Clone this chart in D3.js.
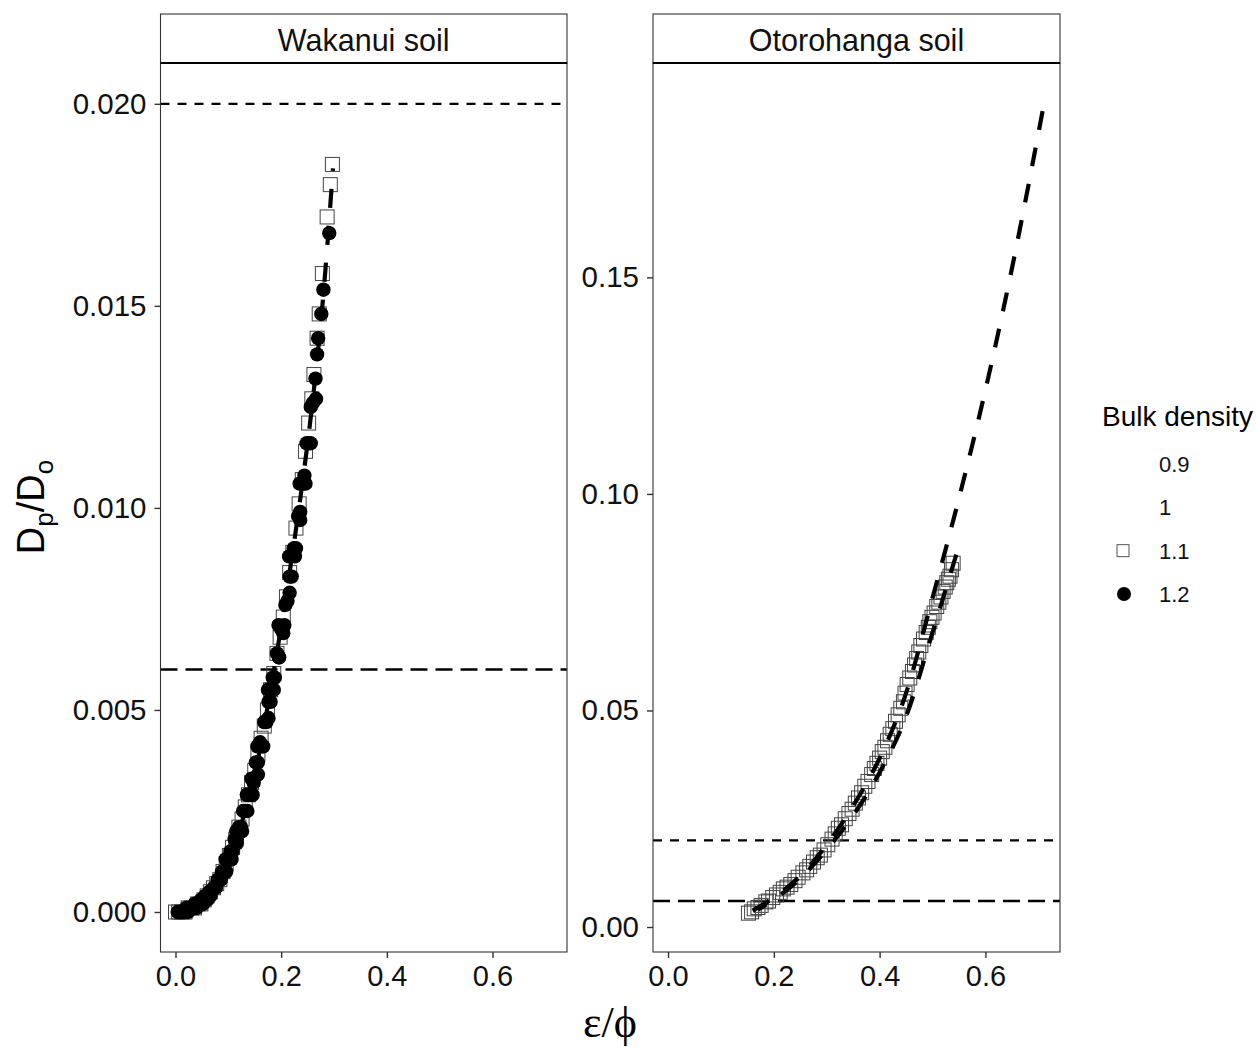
<!DOCTYPE html>
<html>
<head>
<meta charset="utf-8">
<script src="https://cdn.jsdelivr.net/npm/d3@7"></script>
<style>
  html, body { margin: 0; padding: 0; background: #fff; }
  svg { display: block; }
</style>
</head>
<body>
<svg id="chart" width="1256" height="1047"></svg>
<script>
// ---- data -------------------------------------------------------------
const panelTitles = ["Wakanui soil", "Otorohanga soil"];
const densityLevels = ["0.9", "1", "1.1", "1.2"];

// Wakanui soil, bulk density 1.2 (filled circles)
const wakanui12X = [0.004,0.008,0.012,0.016,0.020,0.024,0.028,0.032,0.036,0.040,0.044,0.048,0.052,0.056,0.060,0.064,0.068,0.072,0.076,0.080,0.084,0.088,0.092,0.096,0.100,0.104,0.108,0.112,0.116,0.120,0.124,0.128,0.132,0.136,0.140,0.144,0.148,0.152,0.156,0.160,0.164,0.168,0.172,0.176,0.180,0.184,0.188,0.192,0.196,0.200,0.204,0.208,0.212,0.216,0.220,0.224,0.228,0.232,0.236,0.240,0.244,0.248,0.252,0.256,0.260,0.265,0.268,0.270,0.276,0.280,0.291,
  0.026,0.046,0.066,0.076,0.086,0.096,0.106,0.116,0.126,0.136,0.146,0.156,0.166,0.176,0.186,0.196,0.206,0.216,0.226,0.236,0.246,0.256,0.266,
  0.095,0.115,0.135,0.155,0.175,0.195,0.215,0.235];
const wakanui12Y = [0.0000,0.0000,0.0000,0.0000,0.0001,0.0000,0.0001,0.0001,0.0002,0.0001,0.0002,0.0003,0.0002,0.0004,0.0003,0.0005,0.0005,0.0006,0.0006,0.0008,0.0008,0.0010,0.0010,0.0013,0.0013,0.0015,0.0015,0.0018,0.0018,0.0021,0.0021,0.0025,0.0025,0.0029,0.0029,0.0033,0.0032,0.0037,0.0037,0.0042,0.0041,0.0047,0.0047,0.0052,0.0052,0.0058,0.0058,0.0064,0.0063,0.0070,0.0069,0.0076,0.0077,0.0083,0.0083,0.0090,0.0090,0.0098,0.0099,0.0106,0.0108,0.0116,0.0116,0.0125,0.0126,0.0132,0.0138,0.0142,0.0148,0.0154,0.0168,
  0.0001,0.0002,0.0004,0.0006,0.0008,0.0010,0.0013,0.0017,0.0020,0.0025,0.0029,0.0034,0.0041,0.0048,0.0055,0.0063,0.0071,0.0079,0.0088,0.0097,0.0106,0.0116,0.0127,
  0.0013,0.0020,0.0029,0.0041,0.0055,0.0071,0.0088,0.0106];

// Wakanui soil, bulk density 1.1 (open squares)
const wakanui11X = [0.000,0.006,0.012,0.018,0.024,0.030,0.036,0.042,0.048,0.054,0.060,0.066,0.072,0.078,0.084,0.090,0.096,0.102,0.108,0.114,0.120,0.126,0.132,0.138,0.144,0.150,0.156,0.162,0.168,0.174,0.180,0.186,0.192,0.198,0.204,0.210,0.216,0.222,0.228,0.234,0.240,0.246,0.252,0.258,0.262,0.268,0.272,0.278,0.287,0.293,0.297];
const wakanui11Y = [0.0000,0.0000,0.0000,0.0000,0.0001,0.0001,0.0001,0.0002,0.0002,0.0003,0.0004,0.0005,0.0006,0.0007,0.0008,0.0010,0.0012,0.0014,0.0016,0.0018,0.0021,0.0023,0.0026,0.0029,0.0032,0.0035,0.0039,0.0043,0.0046,0.0050,0.0055,0.0059,0.0064,0.0068,0.0073,0.0078,0.0084,0.0089,0.0095,0.0101,0.0107,0.0114,0.0121,0.0127,0.0133,0.0142,0.0148,0.0158,0.0172,0.0180,0.0185];

// Otorohanga soil, bulk density 1.1 (open squares)
const otoro11X = [0.152,0.158,0.163,0.170,0.176,0.185,0.190,0.198,0.205,0.212,0.218,0.225,0.232,0.240,0.246,0.255,0.262,0.268,0.275,0.282,0.288,0.295,0.302,0.310,0.316,0.322,0.328,0.335,0.342,0.348,0.354,0.360,0.366,0.372,0.378,0.385,0.390,0.395,0.400,0.405,0.410,0.415,0.420,0.425,0.430,0.435,0.440,0.445,0.448,0.452,0.457,0.462,0.466,0.470,0.474,0.478,0.483,0.488,0.492,0.495,0.499,0.503,0.508,0.512,0.516,0.520,0.524,0.527,0.530,0.533,0.536,0.539];
const otoro11Y = [0.0032,0.0035,0.0042,0.0045,0.0050,0.0058,0.0060,0.0068,0.0074,0.0080,0.0088,0.0092,0.0098,0.0107,0.0115,0.0125,0.0132,0.0140,0.0150,0.0160,0.0166,0.0178,0.0190,0.0203,0.0215,0.0228,0.0236,0.0250,0.0262,0.0272,0.0286,0.0298,0.0310,0.0325,0.0336,0.0352,0.0366,0.0378,0.0390,0.0405,0.0415,0.0430,0.0445,0.0458,0.0475,0.0490,0.0505,0.0520,0.0540,0.0560,0.0575,0.0590,0.0605,0.0620,0.0635,0.0650,0.0665,0.0680,0.0692,0.0705,0.0715,0.0725,0.0740,0.0750,0.0762,0.0775,0.0785,0.0795,0.0803,0.0810,0.0825,0.0840];

// fitted model curves
const wakanuiFitX = [0.000,0.030,0.060,0.090,0.120,0.150,0.180,0.210,0.240,0.260,0.280,0.298];
const wakanuiFitY = [0.0000,0.0001,0.0004,0.0010,0.0020,0.0034,0.0055,0.0079,0.0106,0.0127,0.0153,0.0184];
const otoroFitX = [0.160,0.200,0.250,0.300,0.350,0.400,0.450,0.500,0.550,0.600,0.650,0.709];
const otoroFitY = [0.0038,0.0068,0.0118,0.0190,0.0280,0.0390,0.0540,0.0760,0.0990,0.1240,0.1520,0.1890];
// Otorohanga fit over the measured range only
const otoroFitShortX = [0.170,0.250,0.300,0.350,0.400,0.450,0.500,0.545];
const otoroFitShortY = [0.0040,0.0112,0.0179,0.0258,0.0357,0.0486,0.0680,0.0860];

// reference thresholds
const thresholdShort = 0.020;
const thresholdLong = 0.006;

// axis ticks
const xTicks = [0.0, 0.2, 0.4, 0.6];
const wakanuiYTicks = [0.000, 0.005, 0.010, 0.015, 0.020];
const otoroYTicks = [0.00, 0.05, 0.10, 0.15];

// ---- layout -----------------------------------------------------------
const sans = "'Liberation Sans', Arial, sans-serif";
const svg = d3.select("#chart");
const stripTop = 14, plotTop = 63, plotBottom = 952;
const panelsX = [[160.5, 567], [653, 1060]];
const xDomain = [-0.0284, 0.741];
const yDomains = [[-0.00099, 0.02101], [-0.00577, 0.1995]];

const zip = (xs, ys) => xs.map((x, i) => ({ x, y: ys[i] }));

const panels = [
  {
    title: panelTitles[0],
    squares: zip(wakanui11X, wakanui11Y),
    circles: zip(wakanui12X, wakanui12Y),
    fits: [zip(wakanuiFitX, wakanuiFitY)],
    yTicks: wakanuiYTicks,
    yFormat: d3.format(".3f")
  },
  {
    title: panelTitles[1],
    squares: zip(otoro11X, otoro11Y),
    circles: [],
    fits: [zip(otoroFitX, otoroFitY), zip(otoroFitShortX, otoroFitShortY)],
    yTicks: otoroYTicks,
    yFormat: d3.format(".2f")
  }
];

panels.forEach((p, i) => {
  const [x0, x1] = panelsX[i];
  const x = d3.scaleLinear().domain(xDomain).range([x0, x1]);
  const y = d3.scaleLinear().domain(yDomains[i]).range([plotBottom, plotTop]);
  const g = svg.append("g");

  const clipId = "clip" + i;
  svg.append("clipPath").attr("id", clipId)
    .append("rect").attr("x", x0).attr("y", plotTop)
    .attr("width", x1 - x0).attr("height", plotBottom - plotTop);

  const plot = g.append("g").attr("clip-path", `url(#${clipId})`);

  // threshold lines
  plot.append("line")
    .attr("x1", x0).attr("x2", x1)
    .attr("y1", y(thresholdShort)).attr("y2", y(thresholdShort))
    .attr("stroke", "#000").attr("stroke-width", 2.2)
    .attr("stroke-dasharray", "9,8");
  plot.append("line")
    .attr("x1", x0).attr("x2", x1)
    .attr("y1", y(thresholdLong)).attr("y2", y(thresholdLong))
    .attr("stroke", "#000").attr("stroke-width", 2.6)
    .attr("stroke-dasharray", "17,8");

  // bulk density 1.1 squares
  const sq = 14;
  plot.selectAll("rect.sq").data(p.squares).join("rect")
    .attr("class", "sq")
    .attr("x", d => x(d.x) - sq / 2).attr("y", d => y(d.y) - sq / 2)
    .attr("width", sq).attr("height", sq)
    .attr("fill", "none").attr("stroke", "#444").attr("stroke-width", 1);

  // bulk density 1.2 circles
  plot.selectAll("circle.pt").data(p.circles).join("circle")
    .attr("class", "pt")
    .attr("cx", d => x(d.x)).attr("cy", d => y(d.y)).attr("r", 7.2)
    .attr("fill", "#000");

  // fitted curves
  const line = d3.line().x(d => x(d.x)).y(d => y(d.y)).curve(d3.curveMonotoneX);
  p.fits.forEach((fit, k) => {
    plot.append("path").datum(fit)
      .attr("d", line)
      .attr("fill", "none").attr("stroke", "#000")
      .attr("stroke-width", 4.2).attr("stroke-dasharray", "19,18")
      .attr("stroke-dashoffset", k * 9);
  });

  // panel border
  g.append("rect")
    .attr("x", x0).attr("y", plotTop)
    .attr("width", x1 - x0).attr("height", plotBottom - plotTop)
    .attr("fill", "none").attr("stroke", "#333").attr("stroke-width", 1.1);

  // strip
  g.append("rect")
    .attr("x", x0).attr("y", stripTop)
    .attr("width", x1 - x0).attr("height", plotTop - stripTop)
    .attr("fill", "#fff").attr("stroke", "#333").attr("stroke-width", 1.1);
  g.append("line")
    .attr("x1", x0).attr("x2", x1).attr("y1", plotTop).attr("y2", plotTop)
    .attr("stroke", "#000").attr("stroke-width", 2.2);
  g.append("text")
    .attr("x", (x0 + x1) / 2).attr("y", 51)
    .attr("text-anchor", "middle")
    .style("font-family", sans).style("font-size", "30.5px")
    .attr("fill", "#111")
    .text(p.title);

  // x axis
  const xAxis = d3.axisBottom(x).tickValues(xTicks).tickFormat(d3.format(".1f"))
    .tickSize(6).tickPadding(7);
  const xa = g.append("g").attr("transform", `translate(0,${plotBottom})`).call(xAxis);
  xa.select(".domain").remove();
  xa.selectAll(".tick line").attr("stroke", "#333").attr("stroke-width", 1.4);
  xa.selectAll(".tick text").attr("fill", "#111")
    .style("font-family", sans).style("font-size", "29px");

  // y axis
  const yAxis = d3.axisLeft(y).tickValues(p.yTicks).tickFormat(p.yFormat)
    .tickSize(6).tickPadding(8);
  const ya = g.append("g").attr("transform", `translate(${x0},0)`).call(yAxis);
  ya.select(".domain").remove();
  ya.selectAll(".tick line").attr("stroke", "#333").attr("stroke-width", 1.4);
  ya.selectAll(".tick text").attr("fill", "#111")
    .style("font-family", sans).style("font-size", "29.5px");
});

// axis titles
const yTitle = svg.append("text")
  .attr("transform", "translate(44,507) rotate(-90)")
  .attr("text-anchor", "middle")
  .style("font-family", sans).style("font-size", "38px")
  .attr("fill", "#000");
yTitle.append("tspan").text("D");
yTitle.append("tspan").style("font-size", "26px").attr("dy", 9).text("p");
yTitle.append("tspan").attr("dy", -9).text("/D");
yTitle.append("tspan").style("font-size", "26px").attr("dy", 9).text("o");

svg.append("text")
  .attr("x", 610).attr("y", 1037)
  .attr("text-anchor", "middle")
  .style("font-family", "'Liberation Serif', 'DejaVu Serif', serif")
  .style("font-size", "44px")
  .attr("fill", "#000")
  .text("\u03B5/\u03D5");

// legend
const legend = svg.append("g");
legend.append("text")
  .attr("x", 1102).attr("y", 426)
  .style("font-family", sans).style("font-size", "28px")
  .attr("fill", "#000")
  .text("Bulk density");
const legendY = d3.scalePoint().domain(densityLevels).range([464, 594]);
densityLevels.forEach(level => {
  const cy = legendY(level);
  legend.append("text")
    .attr("x", 1159).attr("y", cy + 8)
    .style("font-family", sans).style("font-size", "22px")
    .attr("fill", "#111")
    .text(level);
  if (level === "1.1") {
    legend.append("rect")
      .attr("x", 1117).attr("y", cy - 6).attr("width", 12).attr("height", 12)
      .attr("fill", "none").attr("stroke", "#555").attr("stroke-width", 1);
  } else if (level === "1.2") {
    legend.append("circle")
      .attr("cx", 1124).attr("cy", cy).attr("r", 7)
      .attr("fill", "#000");
  }
});
</script>
</body>
</html>
